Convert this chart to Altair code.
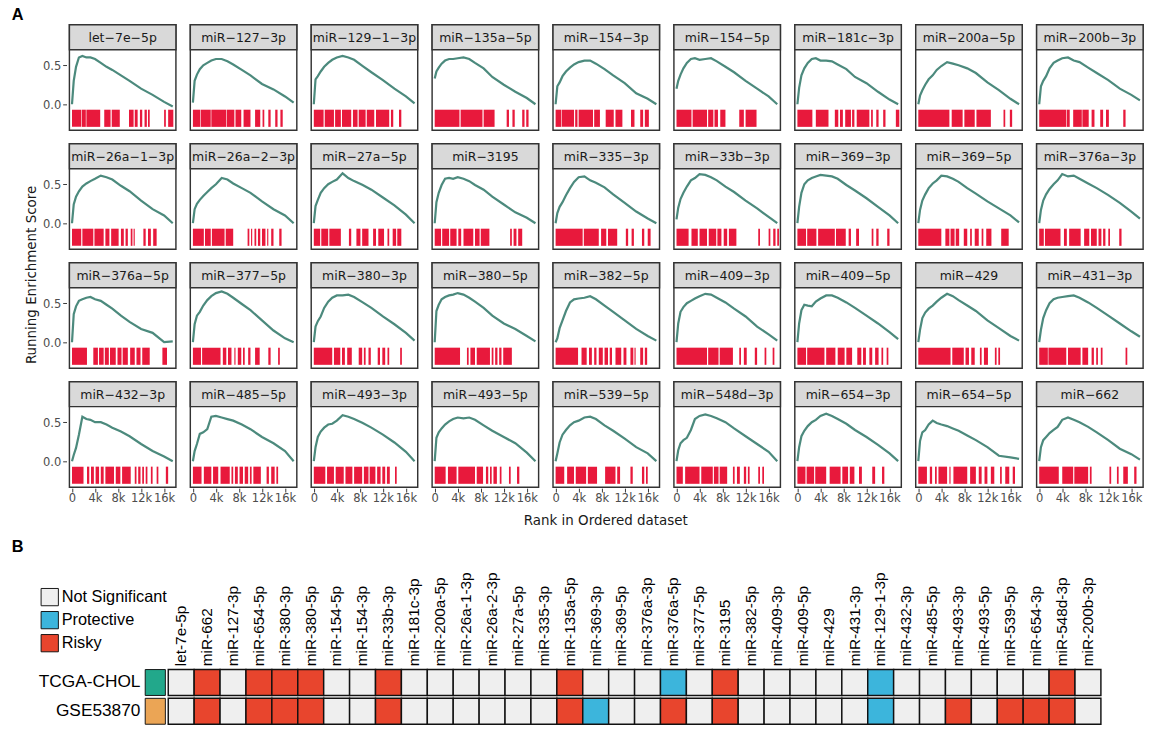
import altair as alt
import pandas as pd

# ---------------- Panel A data ----------------
RANK_GRID_K = [0, 0.3, 0.7, 1.2, 1.8, 2.5, 3.2, 4, 5, 6, 7, 8.5, 10, 12, 14, 16, 17.5]

NAMES_A = [
    "let-7e-5p", "miR-127-3p", "miR-129-1-3p", "miR-135a-5p", "miR-154-3p", "miR-154-5p",
    "miR-181c-3p", "miR-200a-5p", "miR-200b-3p",
    "miR-26a-1-3p", "miR-26a-2-3p", "miR-27a-5p", "miR-3195", "miR-335-3p", "miR-33b-3p",
    "miR-369-3p", "miR-369-5p", "miR-376a-3p",
    "miR-376a-5p", "miR-377-5p", "miR-380-3p", "miR-380-5p", "miR-382-5p", "miR-409-3p",
    "miR-409-5p", "miR-429", "miR-431-3p",
    "miR-432-3p", "miR-485-5p", "miR-493-3p", "miR-493-5p", "miR-539-5p", "miR-548d-3p",
    "miR-654-3p", "miR-654-5p", "miR-662",
]

ES = {
    "let-7e-5p":    [0.0, 0.3, 0.48, 0.6, 0.62, 0.6, 0.6, 0.58, 0.53, 0.48, 0.44, 0.37, 0.3, 0.2, 0.12, 0.03, -0.03],
    "miR-127-3p":   [0.02, 0.3, 0.38, 0.45, 0.5, 0.53, 0.56, 0.58, 0.58, 0.55, 0.51, 0.44, 0.37, 0.26, 0.19, 0.1, 0.02],
    "miR-129-1-3p": [0.0, 0.32, 0.36, 0.42, 0.48, 0.53, 0.57, 0.6, 0.62, 0.6, 0.57, 0.49, 0.41, 0.31, 0.2, 0.1, 0.01],
    "miR-135a-5p":  [0.33, 0.42, 0.47, 0.52, 0.56, 0.58, 0.58, 0.59, 0.6, 0.58, 0.53, 0.46, 0.35, 0.25, 0.16, 0.08, 0.0],
    "miR-154-3p":   [0.0, 0.23, 0.28, 0.36, 0.42, 0.47, 0.51, 0.54, 0.56, 0.56, 0.52, 0.45, 0.37, 0.27, 0.14, 0.07, 0.0],
    "miR-154-5p":   [0.2, 0.3, 0.38, 0.46, 0.53, 0.58, 0.59, 0.57, 0.58, 0.59, 0.55, 0.48, 0.41, 0.3, 0.2, 0.1, 0.0],
    "miR-181c-3p":  [0.0, 0.21, 0.37, 0.46, 0.53, 0.58, 0.59, 0.56, 0.56, 0.55, 0.51, 0.45, 0.35, 0.27, 0.16, 0.06, 0.0],
    "miR-200a-5p":  [0.0, 0.11, 0.18, 0.25, 0.32, 0.37, 0.44, 0.49, 0.54, 0.52, 0.5, 0.46, 0.4, 0.28, 0.18, 0.07, 0.0],
    "miR-200b-3p":  [0.0, 0.23, 0.3, 0.36, 0.46, 0.53, 0.56, 0.59, 0.6, 0.56, 0.54, 0.47, 0.4, 0.31, 0.2, 0.12, 0.05],
    "miR-26a-1-3p": [0.0, 0.24, 0.34, 0.41, 0.47, 0.51, 0.54, 0.57, 0.61, 0.59, 0.56, 0.48, 0.41, 0.29, 0.18, 0.1, 0.0],
    "miR-26a-2-3p": [0.0, 0.18, 0.25, 0.3, 0.35, 0.4, 0.45, 0.5, 0.58, 0.56, 0.51, 0.45, 0.39, 0.28, 0.18, 0.1, 0.0],
    "miR-27a-5p":   [0.0, 0.22, 0.3, 0.39, 0.45, 0.5, 0.53, 0.56, 0.64, 0.58, 0.54, 0.49, 0.43, 0.33, 0.23, 0.11, 0.0],
    "miR-3195":     [0.0, 0.27, 0.39, 0.49, 0.57, 0.58, 0.57, 0.59, 0.57, 0.54, 0.49, 0.43, 0.34, 0.24, 0.14, 0.07, 0.0],
    "miR-335-3p":   [0.0, 0.13, 0.21, 0.27, 0.36, 0.45, 0.53, 0.59, 0.6, 0.55, 0.52, 0.46, 0.37, 0.26, 0.15, 0.06, 0.0],
    "miR-33b-3p":   [0.05, 0.2, 0.31, 0.39, 0.47, 0.55, 0.58, 0.63, 0.62, 0.59, 0.55, 0.47, 0.4, 0.29, 0.19, 0.08, 0.0],
    "miR-369-3p":   [0.0, 0.21, 0.39, 0.5, 0.55, 0.58, 0.6, 0.62, 0.61, 0.6, 0.57, 0.49, 0.42, 0.32, 0.21, 0.1, 0.0],
    "miR-369-5p":   [0.0, 0.17, 0.29, 0.37, 0.45, 0.51, 0.55, 0.61, 0.6, 0.57, 0.53, 0.45, 0.38, 0.28, 0.19, 0.1, 0.01],
    "miR-376a-3p":  [0.0, 0.17, 0.29, 0.37, 0.44, 0.5, 0.55, 0.63, 0.6, 0.61, 0.57, 0.51, 0.45, 0.36, 0.26, 0.15, 0.06],
    "miR-376a-5p":  [0.0, 0.36, 0.46, 0.53, 0.55, 0.57, 0.58, 0.55, 0.53, 0.48, 0.43, 0.34, 0.26, 0.17, 0.12, 0.0, 0.01],
    "miR-377-5p":   [0.0, 0.23, 0.34, 0.39, 0.47, 0.54, 0.59, 0.63, 0.65, 0.62, 0.57, 0.49, 0.41, 0.28, 0.15, 0.05, 0.0],
    "miR-380-3p":   [0.0, 0.2, 0.27, 0.33, 0.44, 0.52, 0.57, 0.6, 0.6, 0.61, 0.58, 0.51, 0.44, 0.33, 0.23, 0.12, 0.02],
    "miR-380-5p":   [0.0, 0.4, 0.48, 0.55, 0.58, 0.6, 0.61, 0.63, 0.61, 0.57, 0.52, 0.44, 0.34, 0.24, 0.17, 0.08, 0.01],
    "miR-382-5p":   [0.0, 0.05, 0.18, 0.28, 0.4, 0.51, 0.55, 0.56, 0.57, 0.59, 0.55, 0.47, 0.39, 0.28, 0.17, 0.08, 0.02],
    "miR-409-3p":   [0.0, 0.24, 0.39, 0.45, 0.5, 0.53, 0.56, 0.59, 0.62, 0.61, 0.57, 0.51, 0.43, 0.33, 0.2, 0.1, 0.02],
    "miR-409-5p":   [0.0, 0.24, 0.41, 0.48, 0.47, 0.46, 0.52, 0.56, 0.6, 0.6, 0.57, 0.51, 0.44, 0.34, 0.24, 0.13, 0.04],
    "miR-429":      [0.0, 0.16, 0.31, 0.38, 0.43, 0.47, 0.52, 0.57, 0.62, 0.59, 0.54, 0.47, 0.4, 0.28, 0.18, 0.08, 0.02],
    "miR-431-3p":   [0.0, 0.16, 0.31, 0.41, 0.5, 0.55, 0.57, 0.58, 0.59, 0.6, 0.57, 0.51, 0.44, 0.34, 0.24, 0.14, 0.07],
    "miR-432-3p":   [0.0, 0.08, 0.17, 0.34, 0.57, 0.54, 0.53, 0.5, 0.5, 0.47, 0.43, 0.38, 0.32, 0.22, 0.13, 0.06, 0.0],
    "miR-485-5p":   [0.0, 0.13, 0.22, 0.35, 0.37, 0.41, 0.57, 0.58, 0.56, 0.54, 0.52, 0.47, 0.41, 0.31, 0.23, 0.13, 0.0],
    "miR-493-3p":   [0.0, 0.18, 0.31, 0.38, 0.43, 0.47, 0.48, 0.52, 0.59, 0.57, 0.54, 0.49, 0.43, 0.34, 0.24, 0.12, 0.0],
    "miR-493-5p":   [0.0, 0.3, 0.37, 0.42, 0.47, 0.51, 0.54, 0.56, 0.55, 0.56, 0.53, 0.46, 0.39, 0.31, 0.23, 0.11, 0.0],
    "miR-539-5p":   [0.0, 0.1, 0.24, 0.34, 0.4, 0.46, 0.5, 0.52, 0.56, 0.57, 0.54, 0.46, 0.39, 0.29, 0.18, 0.1, 0.0],
    "miR-548d-3p":  [0.0, 0.14, 0.23, 0.27, 0.3, 0.4, 0.54, 0.58, 0.6, 0.58, 0.55, 0.5, 0.42, 0.32, 0.22, 0.12, 0.0],
    "miR-654-3p":   [0.0, 0.18, 0.32, 0.39, 0.45, 0.5, 0.53, 0.58, 0.61, 0.58, 0.54, 0.48, 0.4, 0.31, 0.21, 0.1, 0.0],
    "miR-654-5p":   [0.0, 0.26, 0.37, 0.4, 0.47, 0.52, 0.49, 0.47, 0.45, 0.42, 0.39, 0.33, 0.27, 0.18, 0.07, 0.05, 0.03],
    "miR-662":      [0.0, 0.18, 0.27, 0.31, 0.36, 0.4, 0.44, 0.53, 0.56, 0.53, 0.5, 0.44, 0.37, 0.27, 0.16, 0.09, 0.02],
}

# red barcode hit intervals, in thousands of rank
BARCODE = {
    "let-7e-5p": [[0, 1.6], [1.7, 2.4], [2.5, 4.9], [5.6, 6.7], [6.9, 8.3], [9.9, 10.7], [10.9, 11.4], [11.8, 12.2], [12.6, 13.0], [13.2, 13.5], [16.0, 16.3], [16.7, 17.6]],
    "miR-127-3p": [[0, 1.3], [1.4, 3.1], [3.2, 5.8], [5.9, 7.2], [7.4, 8.4], [8.8, 10.0], [10.8, 11.7], [12.1, 12.4], [13.1, 13.5], [14.3, 14.7], [15.2, 15.6]],
    "miR-129-1-3p": [[0, 1.7], [1.9, 3.5], [3.7, 4.7], [4.9, 6.5], [6.8, 7.6], [7.8, 9.0], [9.2, 10.5], [10.8, 13.1], [13.4, 13.8], [14.8, 15.2]],
    "miR-135a-5p": [[0, 4.3], [4.5, 8.3], [8.5, 10.4], [12.5, 12.9], [13.5, 13.9], [15.2, 15.6], [15.9, 16.3]],
    "miR-154-3p": [[0, 1.0], [1.1, 3.2], [3.4, 3.8], [4.0, 6.5], [6.7, 7.7], [8.7, 10.1], [10.4, 11.6], [13.1, 13.7], [14.7, 15.2], [15.5, 16.2]],
    "miR-154-5p": [[0, 2.6], [2.8, 5.3], [5.5, 6.4], [6.6, 7.2], [7.6, 8.5], [10.9, 11.7], [12.0, 13.9]],
    "miR-181c-3p": [[0, 2.6], [3.2, 5.4], [6.5, 7.1], [7.4, 7.9], [8.3, 9.3], [9.5, 9.9], [10.3, 12.5], [12.8, 13.1], [13.7, 14.1], [14.9, 15.3], [17.1, 17.7]],
    "miR-200a-5p": [[0, 5.4], [5.8, 7.7], [8.0, 9.8], [10.1, 12.6], [14.8, 15.1], [15.9, 16.3]],
    "miR-200b-3p": [[0, 4.7], [4.8, 5.3], [5.9, 7.4], [7.5, 8.6], [9.1, 9.6], [10.6, 11.1], [11.6, 12.1], [14.6, 15.0]],
    "miR-26a-1-3p": [[0, 1.6], [1.8, 3.7], [3.9, 5.5], [5.8, 6.5], [6.8, 8.1], [8.5, 9.0], [9.3, 9.7], [10.2, 10.5], [10.7, 10.9], [12.4, 12.8], [13.2, 13.7], [14.1, 14.7]],
    "miR-26a-2-3p": [[0, 1.9], [2.1, 3.1], [3.3, 5.5], [5.7, 7.0], [9.5, 9.8], [10.1, 10.3], [10.7, 11.0], [11.3, 11.7], [12.0, 12.6], [12.9, 13.1], [13.6, 14.0], [15.0, 15.4]],
    "miR-27a-5p": [[0, 1.1], [1.3, 2.5], [2.7, 4.7], [6.1, 6.5], [7.4, 8.1], [8.4, 9.5], [10.3, 10.8], [11.2, 12.2], [12.8, 13.1], [13.7, 14.3], [14.5, 15.2]],
    "miR-3195": [[0, 1.1], [1.3, 2.5], [2.7, 3.8], [4.1, 4.6], [5.0, 6.7], [7.0, 7.8], [8.0, 9.5], [13.1, 13.4], [13.7, 14.2], [14.5, 15.2]],
    "miR-335-3p": [[0, 4.7], [4.9, 7.5], [7.9, 8.8], [9.1, 10.7], [12.2, 12.6], [13.2, 13.6], [15.0, 15.4], [16.0, 16.5]],
    "miR-33b-3p": [[0, 2.1], [2.6, 3.7], [4.0, 5.3], [5.6, 6.9], [7.1, 7.8], [8.2, 8.8], [9.1, 10.4], [14.2, 14.5], [16.0, 16.3], [16.8, 17.2], [17.5, 17.8]],
    "miR-369-3p": [[0, 1.5], [1.7, 3.3], [3.6, 6.5], [6.7, 8.4], [8.9, 9.3], [10.2, 10.7], [12.9, 13.2], [13.7, 14.1], [15.6, 16.0]],
    "miR-369-5p": [[0, 4.0], [4.7, 5.4], [5.6, 6.3], [6.5, 7.1], [7.9, 8.5], [9.0, 9.3], [9.8, 10.5], [11.0, 11.3], [11.8, 12.7], [14.4, 15.7]],
    "miR-376a-3p": [[0, 0.8], [1.0, 3.7], [4.3, 4.8], [5.2, 7.2], [7.8, 8.7], [9.0, 10.0], [10.3, 10.8], [11.1, 11.5], [12.0, 12.3], [13.9, 14.3]],
    "miR-376a-5p": [[0, 2.6], [3.7, 4.5], [4.7, 5.5], [5.7, 6.4], [6.6, 7.6], [7.9, 8.6], [8.8, 9.7], [10.1, 10.9], [11.2, 11.9], [12.2, 13.5], [15.7, 16.5]],
    "miR-377-5p": [[0, 1.4], [1.6, 4.8], [5.2, 5.8], [6.1, 6.7], [7.2, 7.4], [7.8, 8.4], [8.7, 9.0], [9.6, 10.0], [10.8, 11.6], [13.1, 13.5], [14.8, 15.1]],
    "miR-380-3p": [[0, 3.2], [3.5, 4.6], [4.9, 5.4], [5.8, 6.6], [7.8, 8.4], [8.7, 9.0], [9.5, 9.9], [11.1, 11.5], [11.9, 12.4], [12.8, 13.1], [15.0, 15.3]],
    "miR-380-5p": [[0, 4.4], [5.6, 5.9], [6.2, 7.0], [7.3, 9.6], [9.9, 10.2], [10.5, 10.9], [11.2, 11.6], [11.9, 13.4]],
    "miR-382-5p": [[0, 3.9], [4.5, 5.4], [5.8, 6.3], [6.7, 7.1], [7.5, 8.2], [8.5, 9.1], [9.4, 9.8], [10.4, 11.4], [11.8, 12.3], [13.0, 13.5], [13.7, 13.9], [14.7, 15.2], [15.5, 15.9]],
    "miR-409-3p": [[0, 5.3], [5.5, 7.3], [7.5, 9.8], [10.9, 11.2], [11.7, 12.2], [13.6, 14.0], [15.3, 15.6], [16.7, 17.0]],
    "miR-409-5p": [[0, 1.5], [1.7, 4.7], [5.0, 6.6], [7.0, 8.2], [8.5, 9.5], [10.4, 11.1], [11.4, 11.9], [12.5, 13.0], [13.5, 14.1], [14.6, 14.9], [15.5, 15.8]],
    "miR-429": [[0, 5.6], [5.9, 7.9], [8.2, 8.8], [9.2, 9.8], [10.7, 11.0], [11.4, 12.1], [13.3, 13.6], [13.9, 14.2]],
    "miR-431-3p": [[0, 1.5], [1.6, 4.7], [5.0, 7.2], [7.5, 8.5], [9.1, 9.5], [9.9, 10.2], [10.7, 11.0], [15.0, 15.3]],
    "miR-432-3p": [[0, 2.0], [2.6, 3.0], [3.3, 3.8], [4.1, 4.7], [5.0, 5.5], [5.8, 7.3], [7.6, 8.4], [8.7, 10.2], [10.9, 11.2], [11.5, 11.9], [12.2, 12.5], [12.8, 13.1], [13.7, 14.0], [14.7, 15.0], [16.3, 16.7]],
    "miR-485-5p": [[0, 1.5], [1.9, 3.2], [3.5, 4.4], [4.8, 6.4], [6.7, 7.0], [7.3, 7.8], [8.1, 8.7], [9.0, 9.6], [9.9, 10.2], [10.5, 11.8], [12.8, 13.2], [13.6, 14.2], [14.5, 14.8]],
    "miR-493-3p": [[0, 2.0], [2.3, 3.5], [3.8, 5.2], [5.5, 6.7], [7.0, 8.4], [8.7, 9.5], [9.7, 10.7], [11.0, 11.6], [11.9, 12.4], [12.7, 13.2], [14.1, 14.4]],
    "miR-493-5p": [[0, 1.9], [2.3, 3.8], [4.1, 7.0], [7.3, 8.4], [8.9, 9.3], [9.6, 9.9], [10.2, 10.8], [11.3, 11.6], [12.9, 13.2], [14.3, 14.7]],
    "miR-539-5p": [[0, 1.5], [2.0, 3.2], [3.5, 5.3], [5.6, 7.2], [8.6, 10.4], [10.7, 11.2], [13.0, 13.4], [15.0, 15.4], [15.7, 16.0]],
    "miR-548d-3p": [[0, 1.1], [1.5, 4.0], [4.3, 6.3], [6.5, 7.3], [7.5, 8.8], [9.8, 10.1], [10.5, 11.0], [11.7, 12.1], [12.4, 12.7], [14.2, 14.5], [14.9, 15.2]],
    "miR-654-3p": [[0, 1.4], [1.6, 2.9], [3.1, 5.0], [5.6, 7.5], [7.8, 8.8], [9.1, 9.9], [10.7, 11.2], [13.0, 13.5], [14.7, 15.1]],
    "miR-654-5p": [[0, 1.5], [2.0, 2.4], [2.9, 3.2], [3.5, 5.0], [5.4, 5.6], [6.1, 8.5], [9.0, 10.0], [10.5, 11.0], [11.5, 12.0], [12.6, 13.2], [14.2, 14.5], [15.1, 15.8], [16.4, 16.8]],
    "miR-662": [[0, 3.4], [4.0, 5.9], [6.1, 8.5], [8.8, 9.1], [12.2, 12.5], [13.5, 13.8], [14.6, 15.4], [16.5, 16.9]],
}

# ---------------- Panel B data ----------------
HEATMAP_ORDER = [
    "let-7e-5p", "miR-662", "miR-127-3p", "miR-654-5p", "miR-380-3p", "miR-380-5p", "miR-154-5p",
    "miR-154-3p", "miR-33b-3p", "miR-181c-3p", "miR-200a-5p", "miR-26a-1-3p", "miR-26a-2-3p",
    "miR-27a-5p", "miR-335-3p", "miR-135a-5p", "miR-369-3p", "miR-369-5p", "miR-376a-3p",
    "miR-376a-5p", "miR-377-5p", "miR-3195", "miR-382-5p", "miR-409-3p", "miR-409-5p", "miR-429",
    "miR-431-3p", "miR-129-1-3p", "miR-432-3p", "miR-485-5p", "miR-493-3p", "miR-493-5p",
    "miR-539-5p", "miR-654-3p", "miR-548d-3p", "miR-200b-3p",
]
DATASETS = ["TCGA-CHOL", "GSE53870"]
STATUS_TCGA = ["N", "R", "N", "R", "R", "R", "N", "N", "R", "N", "N", "N", "N", "N", "N", "R", "N", "N",
               "N", "P", "N", "R", "N", "N", "N", "N", "N", "P", "N", "N", "N", "N", "N", "N", "R", "N"]
STATUS_GSE = ["N", "R", "N", "R", "R", "R", "N", "N", "R", "N", "N", "N", "N", "N", "N", "R", "P", "N",
              "N", "R", "N", "R", "N", "N", "N", "N", "N", "P", "N", "N", "R", "N", "R", "R", "R", "N"]
STATUS_NAMES = {"N": "Not Significant", "P": "Protective", "R": "Risky"}
STATUS_LEVELS = ["Not Significant", "Protective", "Risky"]
STATUS_COLORS = ["#efefef", "#3cb5dc", "#e8452d"]
ANNO_COLORS = ["#22a88b", "#eba555"]

# ---------------- build tables ----------------
rows = []
for n in NAMES_A:
    for r, v in zip(RANK_GRID_K, ES[n]):
        rows.append({"name": n, "kind": "line", "rank": r * 1000, "es": v})
    for a, b in BARCODE[n]:
        rows.append({"name": n, "kind": "bar", "x0": a * 1000, "x1": b * 1000})
    rows.append({"name": n, "kind": "strip", "label": n.replace("-", "\u2212")})
dfA = pd.DataFrame(rows)

heat_rows = []
for ds, stat in zip(DATASETS, [STATUS_TCGA, STATUS_GSE]):
    for m, s in zip(HEATMAP_ORDER, stat):
        heat_rows.append({"mirna": m, "dataset": ds, "status": STATUS_NAMES[s]})
dfB = pd.DataFrame(heat_rows)
dfAnno = pd.DataFrame({"dataset": DATASETS})

# ---------------- Panel A ----------------
W, H, STRIP = 111, 110, 26
FONT_A = "DejaVu Sans"
xs = alt.Scale(domain=[-450, 18050], nice=False, zero=False)
ys = alt.Scale(domain=[-0.334, 0.687], range=[H, STRIP + 1], nice=False, zero=False)
xaxis = alt.Axis(values=[0, 4000, 8000, 12000, 16000],
                 labelExpr="datum.value == 0 ? '0' : (datum.value / 1000) + 'k'",
                 title=None, grid=False, domain=False, tickSize=4, tickColor="#333333",
                 labelFont=FONT_A, labelFontSize=12, labelColor="#4d4d4d", labelPadding=1,
                 labelFlush=False, labelOverlap=False)
yaxis = alt.Axis(values=[0, 0.5], format=".1f", title=None, grid=False, domain=False,
                 tickSize=4, tickColor="#333333", labelFont=FONT_A, labelFontSize=12,
                 labelColor="#4d4d4d", labelPadding=2, labelOverlap=False, labelFlush=False)

strip_bg = alt.Chart().mark_rect(fill="#d9d9d9", stroke="#333333", strokeWidth=1.5).encode(
    x=alt.value(0), x2=alt.value(W), y=alt.value(0), y2=alt.value(STRIP)
).transform_filter("datum.kind == 'strip'")

bars = alt.Chart().mark_rect(color="#e8193c").encode(
    x=alt.X("x0:Q", scale=xs, axis=xaxis), x2="x1:Q",
    y=alt.datum(-0.07), y2=alt.datum(-0.29)
).transform_filter("datum.kind == 'bar'")

line = alt.Chart().mark_line(color="#4c8a7d", strokeWidth=2.3).encode(
    x=alt.X("rank:Q", scale=xs, axis=xaxis),
    y=alt.Y("es:Q", scale=ys, axis=yaxis)
).transform_filter("datum.kind == 'line'")

strip_text = alt.Chart().mark_text(font=FONT_A, fontSize=13, color="#1a1a1a", baseline="middle",
                                   align="center", clip=True).encode(
    x=alt.value(W / 2), y=alt.value(STRIP / 2 + 1), text="label:N"
).transform_filter("datum.kind == 'strip'")

panelA_facet = alt.layer(strip_bg, bars, line, strip_text, data=dfA).properties(
    width=W, height=H
).facet(
    facet=alt.Facet("name:N", sort=NAMES_A, title="Rank in Ordered dataset",
                    header=alt.Header(labels=False, labelExpr="''", labelFontSize=1,
                                      labelPadding=0, titleOrient="bottom", titleFont=FONT_A,
                                      titleFontSize=14, titleFontWeight="normal",
                                      titleColor="#1a1a1a", titlePadding=11)),
    columns=9,
    spacing=alt.RowColnumber(row=10, column=9),
).properties(
    title=alt.TitleParams("Running Enrichment Score", orient="left", anchor="middle", font=FONT_A,
                          fontSize=14, fontWeight="normal", color="#1a1a1a", offset=4)
)

panelA = alt.vconcat(panelA_facet, title=alt.TitleParams(
    "A", anchor="start", frame="group", font="Liberation Sans", fontSize=17,
    fontWeight="bold", color="black", dx=-60, dy=4, offset=2))

# ---------------- Panel B ----------------
FONT_B = "Liberation Sans"
CELL = 27
N_COL = len(HEATMAP_ORDER)
LEAD = 103  # empty lead-in (px) left of the first heatmap column, holds the row labels
WB = LEAD + CELL * N_COL

xb = alt.Scale(domain=HEATMAP_ORDER, range=[LEAD, WB], paddingInner=0, paddingOuter=0)
yb = alt.Scale(domain=DATASETS, paddingInner=0.1, paddingOuter=0)

heat = alt.Chart(dfB).mark_rect(stroke="#111111", strokeWidth=1.5).encode(
    x=alt.X("mirna:N", sort=HEATMAP_ORDER, scale=xb,
            axis=alt.Axis(orient="top", labelAngle=270, title=None, ticks=False, domain=False,
                          labelFont=FONT_B, labelFontSize=16, labelColor="black", labelPadding=4)),
    y=alt.Y("dataset:N", sort=DATASETS, scale=yb, axis=None),
    color=alt.Color("status:N", scale=alt.Scale(domain=STATUS_LEVELS, range=STATUS_COLORS),
                    legend=alt.Legend(orient="none", legendX=LEAD - 133, legendY=-85, title=None,
                                      symbolType="square", symbolSize=324,
                                      symbolStrokeColor="#111111", symbolStrokeWidth=1,
                                      symbolOpacity=1, labelFont=FONT_B, labelFontSize=17,
                                      labelColor="black", rowPadding=1, labelOffset=3))
)
anno = alt.Chart(dfAnno).mark_rect(stroke="#111111", strokeWidth=1).encode(
    x=alt.value(LEAD - 24), x2=alt.value(LEAD - 3),
    y=alt.Y("dataset:N", sort=DATASETS, scale=yb, axis=None),
    fill=alt.Fill("dataset:N", scale=alt.Scale(domain=DATASETS, range=ANNO_COLORS), legend=None)
)
row_labels = alt.Chart(dfAnno).mark_text(font=FONT_B, fontSize=18, color="black", align="right",
                                         baseline="middle").encode(
    x=alt.value(LEAD - 29),
    y=alt.Y("dataset:N", sort=DATASETS, scale=yb, axis=None, bandPosition=0.5),
    text="dataset:N"
)
panelB = alt.layer(heat, anno, row_labels).properties(
    width=WB, height=57,
    view=alt.ViewBackground(stroke="transparent"),
    title=alt.TitleParams("B", anchor="start", frame="group", font="Liberation Sans", fontSize=17,
                          fontWeight="bold", color="black", dx=-60, offset=17)
)

chart = alt.concat(panelA, panelB, columns=1, spacing=10).properties(
    padding={"left": 3, "top": -17, "right": 0, "bottom": 0}
).resolve_legend(color="independent", fill="independent").configure_view(
    stroke="#333333", strokeWidth=1.5
).configure_header(labels=False)

chart.save("out.html", embed_options={"renderer": "svg", "actions": False})
